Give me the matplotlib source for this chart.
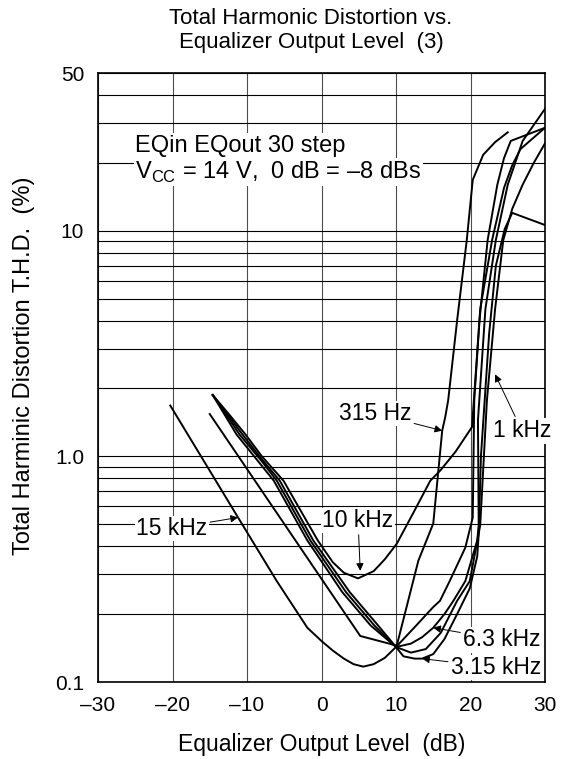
import matplotlib
matplotlib.use('Agg')
import matplotlib.pyplot as plt
from matplotlib.ticker import FixedLocator, NullFormatter

plt.rcParams['font.family'] = ['Liberation Sans', 'DejaVu Sans']
plt.rcParams['mathtext.fontset'] = 'custom'
plt.rcParams['mathtext.rm'] = 'Liberation Sans'

# Data: x = EQ output level (dB), y = THD (%)
x_15k = [-20.3, -11.2, -6.0, -1.9, 0.0, 1.5, 3.0, 4.3, 5.6, 7.0, 8.5, 10.0, 12.5, 15.0, 15.9,
         17.2, 19.3, 20.3, 20.5, 21.3, 22.9, 24.5, 25.6, 26.7, 30.0]
y_15k = [1.68, 0.536, 0.28, 0.174, 0.152, 0.138, 0.127, 0.12, 0.117, 0.12, 0.128, 0.143, 0.175, 0.215, 0.229,
         0.28, 0.394, 0.536, 1.77, 4.5, 9.1, 15.5, 19.5, 23.0, 28.6]

x_10k = [-14.6, -12.3, -10.2, -8.0, -5.1, -0.5, 1.5, 3.0, 4.9, 7.0, 8.5, 10.1, 12.3, 14.6, 16.0,
         18.0, 20.2, 21.2, 22.3, 23.6, 24.5, 25.4, 30.0]
y_10k = [1.87, 1.52, 1.25, 1.0, 0.78, 0.424, 0.34, 0.305, 0.288, 0.31, 0.35, 0.41, 0.56, 0.78, 0.87,
         1.05, 1.35, 4.0, 9.1, 16.0, 21.0, 25.0, 28.6]

x_63k = [-14.6, -12.4, -10.6, -8.0, -5.6, -1.1, 3.8, 7.6, 10.0, 12.0, 13.5, 15.0, 16.5, 17.7,
         19.3, 20.9, 21.1, 21.0, 22.0, 23.4, 25.0, 27.0, 30.0]
y_63k = [1.87, 1.5, 1.25, 0.97, 0.78, 0.424, 0.25, 0.178, 0.143, 0.148, 0.158, 0.174, 0.2, 0.229,
         0.28, 0.424, 0.494, 1.45, 4.5, 9.1, 16.0, 25.0, 34.7]

x_315k = [-14.6, -12.6, -11.0, -8.0, -6.0, -1.5, 3.3, 7.1, 10.0, 11.0, 12.5, 13.5, 15.0, 16.5,
          18.2, 19.9, 20.9, 21.1, 21.4, 22.5, 23.4, 24.6, 25.6, 30.0]
y_315k = [1.87, 1.5, 1.25, 0.95, 0.78, 0.424, 0.25, 0.178, 0.143, 0.13, 0.127, 0.127, 0.133, 0.155,
          0.2, 0.26, 0.36, 0.45, 1.0, 3.5, 7.0, 10.2, 12.0, 10.6]

x_1k = [-14.6, -11.4, -6.4, -1.9, 2.8, 6.6, 10.0, 12.0, 14.0, 16.0, 18.2, 19.9,
        21.3, 22.2, 23.3, 24.4, 25.6, 27.0, 28.5, 30.0]
y_1k = [1.87, 1.25, 0.78, 0.424, 0.25, 0.178, 0.143, 0.135, 0.14, 0.165, 0.229, 0.28,
        0.494, 1.77, 4.5, 9.1, 12.5, 16.0, 20.0, 24.4]

x_315 = [-15.0, 5.2, 10.1, 13.0, 15.0, 16.2, 16.6, 17.0, 18.2, 19.5, 20.3, 21.7, 23.3, 25.0]
y_315 = [1.54, 0.16, 0.145, 0.345, 0.504, 1.3, 1.49, 1.77, 4.0, 9.1, 16.8, 21.7, 24.7, 27.3]

x_ticks = [-30, -20, -10, 0, 10, 20, 30]
x_ticklabels = ['\u201330', '\u201320', '\u201310', '0', '10', '20', '30']
y_ticks = [0.1, 1, 10, 50]
y_ticklabels = ['0.1', '1.0', '10', '50']
y_minor = [0.2, 0.3, 0.4, 0.5, 0.6, 0.7, 0.8, 0.9, 2, 3, 4, 5, 6, 7, 8, 9, 20, 30, 40]

fig = plt.figure(figsize=(5.61, 7.59), dpi=100)
ax = fig.add_axes([0.1747, 0.1014, 0.7968, 0.8024])

for xs, ys in [(x_15k, y_15k), (x_10k, y_10k), (x_63k, y_63k),
               (x_315k, y_315k), (x_1k, y_1k), (x_315, y_315)]:
    ax.plot(xs, ys, color='black', lw=1.4, zorder=3)

ax.set_yscale('log')
ax.set_xlim(-30, 30)
ax.set_ylim(0.1, 50)
ax.set_xticks(x_ticks)
ax.set_xticklabels(x_ticklabels)
ax.set_yticks(y_ticks)
ax.set_yticklabels(y_ticklabels)
ax.yaxis.set_minor_locator(FixedLocator(y_minor))
ax.yaxis.set_minor_formatter(NullFormatter())
ax.tick_params(which='both', length=0, labelsize=15, pad=10)
ax.grid(which='both', axis='y', color='black', lw=0.8, zorder=1)
ax.grid(which='major', axis='x', color='0.3', lw=0.8, zorder=1)
for s in ax.spines.values():
    s.set_linewidth(1.2)

ax.set_xlabel('Equalizer Output Level  (dB)', fontsize=16.5)
ax.xaxis.set_label_coords(0.5, -0.083)
ax.set_ylabel('Total Harminic Distortion T.H.D.  (%)', fontsize=17)
ax.yaxis.set_label_coords(-0.14, 0.52)
fig.text(311 / 561, 1 - 30.5 / 759, 'Total Harmonic Distortion vs.\nEqualizer Output Level  (3)',
         fontsize=16, ha='center', va='center', linespacing=1.2)

box = dict(facecolor='white', edgecolor='none', pad=1)
ax.text(-25.0, 23.8, 'EQin EQout 30 step', fontsize=17, va='center', ha='left', bbox=box, zorder=5)
ax.text(-25.0, 18.2, 'V$_{\\mathregular{CC}}$ = 14 V,  0 dB = \u20138 dBs',
        fontsize=17, va='center', ha='left', bbox=box, zorder=5)

arrow = dict(arrowstyle='-|>', color='black', lw=0.7, mutation_scale=11,
             shrinkA=1, shrinkB=0)
labels = [('15 kHz', (-11.2, 0.536), (-20.1, 0.479)),
          ('10 kHz', (5.2, 0.311), (4.9, 0.52)),
          ('315 Hz', (16.2, 1.30), (7.2, 1.55)),
          ('1 kHz', (23.3, 2.31), (26.9, 1.30)),
          ('6.3 kHz', (15.0, 0.174), (24.2, 0.154)),
          ('3.15 kHz', (13.5, 0.127), (23.4, 0.116))]
for txt, xy, xyt in labels:
    ax.annotate(txt, xy=xy, xytext=xyt, fontsize=16.5, ha='center', va='center',
                bbox=box, arrowprops=arrow, zorder=5, annotation_clip=False)

fig.savefig('out.png', dpi=100)
